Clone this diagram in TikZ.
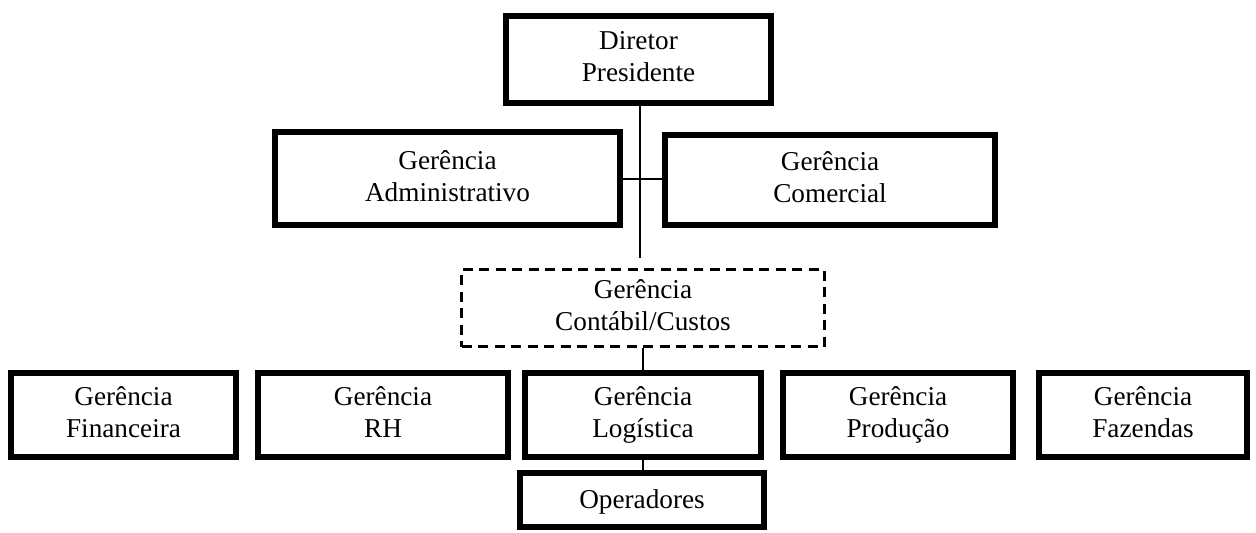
\documentclass[tikz,border=0pt]{standalone}
\usepackage{fontspec}
\setmainfont{Liberation Serif}
\usepackage{tikz}
\usetikzlibrary{positioning}

\begin{document}
\begin{tikzpicture}[x=0.02cm, y=-0.02cm,
	orgbox/.style={draw, line width=3.4pt, align=center, inner sep=0, minimum height=1.74cm, font=\fontsize{15.5}{18.2}\selectfont, execute at begin node=\vphantom{\^E}, execute at end node=\vphantom{g\c{c}}},
	dashbox/.style={orgbox, line width=1.2pt, dash pattern=on 0.2cm off 0.13cm},
	link/.style={line width=0.7pt}
]
\useasboundingbox (0,0) rectangle (1256,532);

\node[orgbox, minimum width=5.3cm] (dir) at (638.5,59.5) {Diretor\\Presidente};
\node[orgbox, minimum width=6.9cm, minimum height=1.86cm] (adm) at (447.5,178.5) {Ger\^encia\\Administrativo};
\node[orgbox, minimum width=6.6cm, minimum height=1.8cm] (com) at (830,180) {Ger\^encia\\Comercial};
\node[dashbox, minimum width=7.26cm, minimum height=1.54cm] (cont) at (643,308) {Ger\^encia\\Cont\'abil/Custos};

\node[orgbox, minimum width=4.5cm, minimum height=1.68cm] (fin) at (123.5,415) {Ger\^encia\\Financeira};
\node[orgbox, minimum width=5cm, minimum height=1.68cm] (rh) at (383,415) {Ger\^encia\\RH};
\node[orgbox, minimum width=4.72cm, minimum height=1.68cm] (log) at (643,415) {Ger\^encia\\Log\'istica};
\node[orgbox, minimum width=4.6cm, minimum height=1.68cm] (prod) at (898,415) {Ger\^encia\\Produ\c{c}\~ao};
\node[orgbox, minimum width=4.16cm, minimum height=1.68cm] (faz) at (1143,415) {Ger\^encia\\Fazendas};
\node[orgbox, minimum width=4.88cm, minimum height=1.08cm] (oper) at (642,500) {Operadores};

\coordinate (hub) at (640,179);
\coordinate (stem) at (640,258);

\draw[link] (dir.south -| hub) -- (stem);
\draw[link] (adm.east |- hub) -- (com.west |- hub);
\draw[link] (cont.south) -- (log.north);
\draw[link] (log.south) -- (oper.north -| log);
\end{tikzpicture}
\end{document}
